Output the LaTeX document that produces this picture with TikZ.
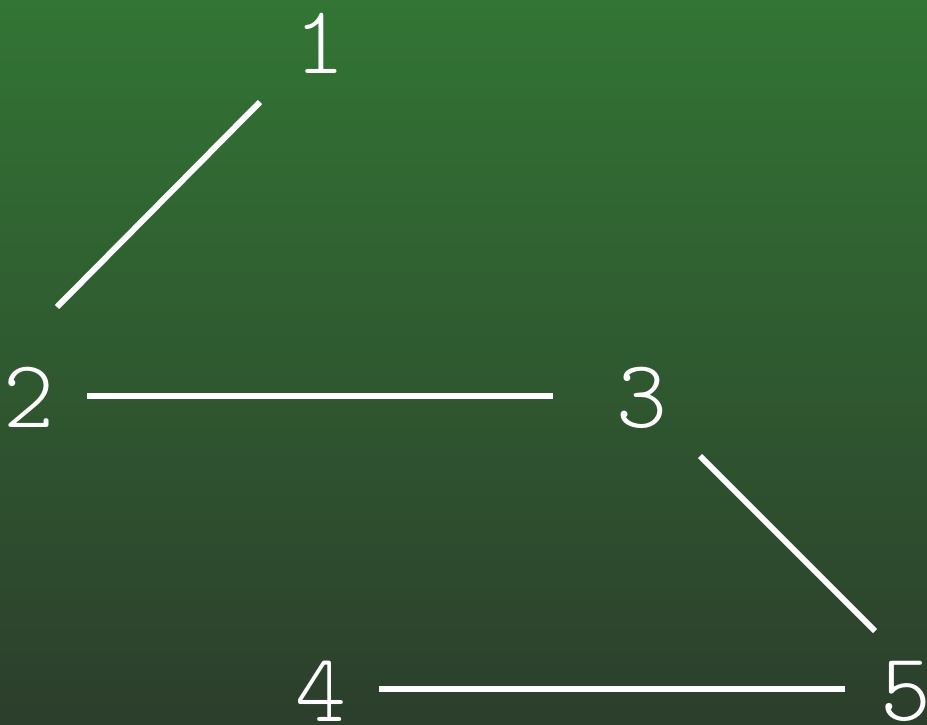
\documentclass[tikz,border=0pt]{standalone}
\usepackage{fontspec}
\setmainfont{Latin Modern Mono Light}
\definecolor{topg}{RGB}{50,117,52}
\definecolor{botg}{RGB}{44,62,44}
\tikzset{lbl/.style={text=white,inner sep=0pt,font=\fontsize{97}{97}\selectfont},
  edge/.style={draw=white,line width=6pt}}
\begin{document}
\begin{tikzpicture}[x=1pt,y=-1pt]
\shade[top color=topg,bottom color=botg] (0,0) rectangle (927,725);
\useasboundingbox (0,0) rectangle (927,725);
\node[lbl] (n1) at (320,43) {1};
\node[lbl] (n2) at (29,397) {2};
\node[lbl] (n3) at (642,398) {3};
\node[lbl] (n4) at (321,691) {4};
\node[lbl] (n5) at (906,691) {5};
\coordinate (a1) at (260,102);
\coordinate (a2) at (57,307);
\coordinate (b2) at (87,396);
\coordinate (b3) at (553,396);
\coordinate (c3) at (700,456);
\coordinate (c5) at (875,631);
\coordinate (d4) at (379,689);
\coordinate (d5) at (845,689);
\draw[edge] (a1) -- (a2);
\draw[edge] (b2) -- (b3);
\draw[edge] (c3) -- (c5);
\draw[edge] (d4) -- (d5);
\end{tikzpicture}
\end{document}
